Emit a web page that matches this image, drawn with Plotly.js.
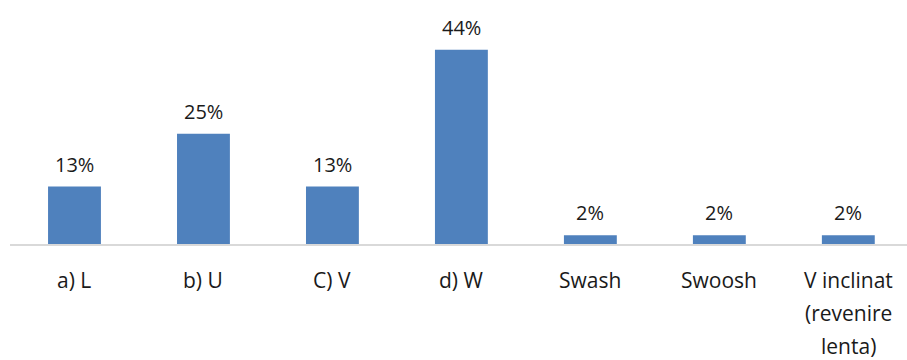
<!DOCTYPE html>
<html>
<head>
<meta charset="utf-8">
<script src="https://cdn.plot.ly/plotly-3.0.1.min.js"></script>
<style>html,body{margin:0;padding:0;background:#fff;}#chart{width:907px;height:360px;}</style>
</head>
<body>
<div id="chart"></div>
<script>
var categories = ["a) L", "b) U", "C) V", "d) W", "Swash", "Swoosh", "V inclinat\n(revenire\nlenta)"];
var values = [13, 25, 13, 44, 2, 2, 2];
var valueLabels = ["13%", "25%", "13%", "44%", "2%", "2%", "2%"];

var FONT = "Open Sans, sans-serif";
var TXT = "#1a1a1a";

var annotations = [];
categories.forEach(function (c, i) {
  annotations.push({
    x: i, y: values[i], xref: "x", yref: "y",
    text: valueLabels[i], showarrow: false,
    yanchor: "middle", yshift: 22.5,
    font: {family: FONT, size: 20, color: TXT}
  });
  c.split("\n").forEach(function (line, k) {
    annotations.push({
      x: i, y: 0, xref: "x", yref: "y",
      text: line, showarrow: false,
      yanchor: "middle", yshift: -36 - k * 33,
      font: {family: FONT, size: 21, color: TXT}
    });
  });
});

var trace = {
  type: "bar",
  x: categories.map(function (c, i) { return i; }),
  y: values,
  width: 0.41,
  marker: {color: "#4F81BD"},
  hoverinfo: "skip"
};

var layout = {
  width: 907, height: 360,
  margin: {l: 10, r: 0, t: 0, b: 116, pad: 0},
  paper_bgcolor: "#fff", plot_bgcolor: "#fff",
  showlegend: false,
  xaxis: {
    range: [-0.5, 6.455], showgrid: false, zeroline: false,
    showticklabels: false, ticks: "",
    showline: true, linecolor: "#D9D9D9", linewidth: 2
  },
  yaxis: {
    range: [0, 55.27], showgrid: false, zeroline: false,
    showticklabels: false, ticks: "", showline: false
  },
  annotations: annotations
};

Plotly.newPlot("chart", [trace], layout, {displayModeBar: false, staticPlot: true});
</script>
</body>
</html>
